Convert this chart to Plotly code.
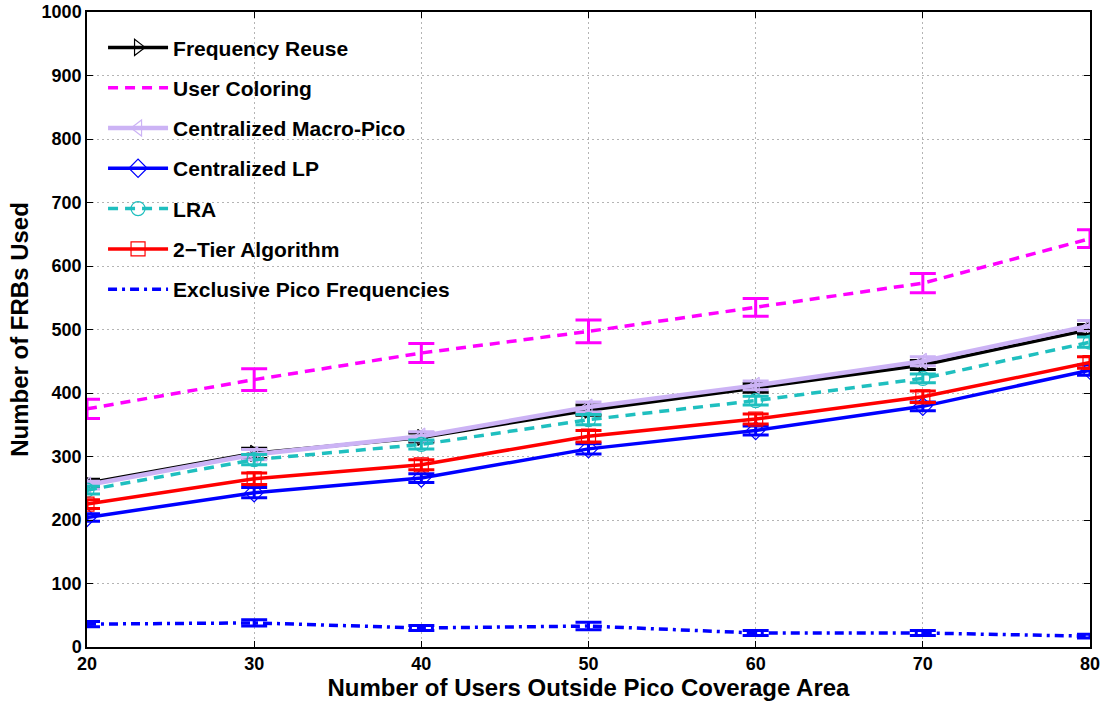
import plotly.graph_objects as go

x_users = [20, 30, 40, 50, 60, 70, 80]

freq_reuse = [258, 305, 330, 373, 408, 444, 500]
user_coloring = [375, 421, 463, 497, 535, 573, 643]
macro_pico = [255, 303, 332, 378, 412, 450, 506]
central_lp = [204, 243, 266, 312, 341, 379, 436]
lra = [247, 295, 319, 358, 388, 423, 480]
two_tier = [225, 265, 287, 332, 359, 394, 448]
exclusive_pico = [36, 38, 30, 33, 22, 22, 17]

err_freq_reuse = [6, 8, 7, 8, 7, 7, 8]
err_user_coloring = [15, 17, 15, 18, 14, 15, 14]
err_macro_pico = [6, 8, 7, 8, 7, 7, 8]
err_central_lp = [6, 8, 7, 8, 7, 7, 8]
err_lra = [6, 8, 7, 8, 7, 7, 8]
err_two_tier = [7, 9, 8, 9, 8, 9, 9]
err_exclusive = [4, 5, 4, 6, 4, 4, 3]

series = [
    ("Frequency Reuse", freq_reuse, err_freq_reuse, "#000000", "solid", "triangle-right-open", 3.5),
    ("User Coloring", user_coloring, err_user_coloring, "#FF00FF", "10px,7px", None, 3.5),
    ("Centralized Macro-Pico", macro_pico, err_macro_pico, "#CCB3F5", "solid", "triangle-left-open", 4.5),
    ("Centralized LP", central_lp, err_central_lp, "#0000FF", "solid", "diamond-open", 3.5),
    ("LRA", lra, err_lra, "#1FBFBF", "10px,7px", "circle-open", 3.5),
    ("2\u2212Tier Algorithm", two_tier, err_two_tier, "#FF0000", "solid", "square-open", 3.5),
    ("Exclusive Pico Frequencies", exclusive_pico, err_exclusive, "#0000FF", "9px,5px,3px,5px", None, 3.5),
]

fig = go.Figure()
for i, (name, vals, errs, color, dash, sym, lw) in enumerate(series):
    mode = "lines+markers" if sym else "lines"
    marker = dict(symbol=sym, size=14, color=color, line=dict(width=1.2, color=color)) if sym else None
    fig.add_trace(go.Scatter(
        x=x_users, y=vals, name=name, mode=mode,
        line=dict(color=color, width=lw, dash=dash),
        marker=marker,
        error_y=dict(type="data", array=errs, visible=True, color=color, thickness=3, width=13),
        legendgroup=f"g{i}",
    ))

font_family = "Liberation Sans, Arial, sans-serif"

fig.update_layout(
    width=1107, height=704,
    paper_bgcolor="white", plot_bgcolor="white",
    margin=dict(l=87, r=17, t=12, b=57),
    font=dict(family=font_family, color="black"),
    showlegend=True,
    legend=dict(
        x=0.016, y=0.976, xanchor="left", yanchor="top",
        bgcolor="rgba(255,255,255,0)", borderwidth=0,
        font=dict(size=21, family=font_family, weight="bold"),
        itemwidth=60, traceorder="grouped", tracegroupgap=10,
    ),
    xaxis=dict(
        range=[20, 80], tickmode="array", tickvals=[20, 30, 40, 50, 60, 70, 80],
        showline=True, linecolor="black", linewidth=1.5, mirror="ticks",
        ticks="inside", ticklen=6, tickcolor="black", automargin=False,
        showgrid=True, gridcolor="#b4b4b4", griddash="2px,3px", gridwidth=1,
        zeroline=False,
        tickfont=dict(size=18, family=font_family, weight="bold"),
        title=dict(text="Number of Users Outside Pico Coverage Area",
                   font=dict(size=24, family=font_family, weight="bold"), standoff=0),
    ),
    yaxis=dict(
        range=[0, 1000], tickmode="array", tickvals=list(range(0, 1001, 100)),
        showline=True, linecolor="black", linewidth=1.5, mirror="ticks",
        ticks="inside", ticklen=6, tickcolor="black", automargin=False,
        showgrid=True, gridcolor="#b4b4b4", griddash="2px,3px", gridwidth=1,
        zeroline=False,
        tickfont=dict(size=18, family=font_family, weight="bold"),
        title=dict(text="Number of FRBs Used",
                   font=dict(size=24, family=font_family, weight="bold"), standoff=6),
    ),
)

fig.write_html("out.html", config={"displayModeBar": False},
               post_script="document.body.style.margin='0px';")
